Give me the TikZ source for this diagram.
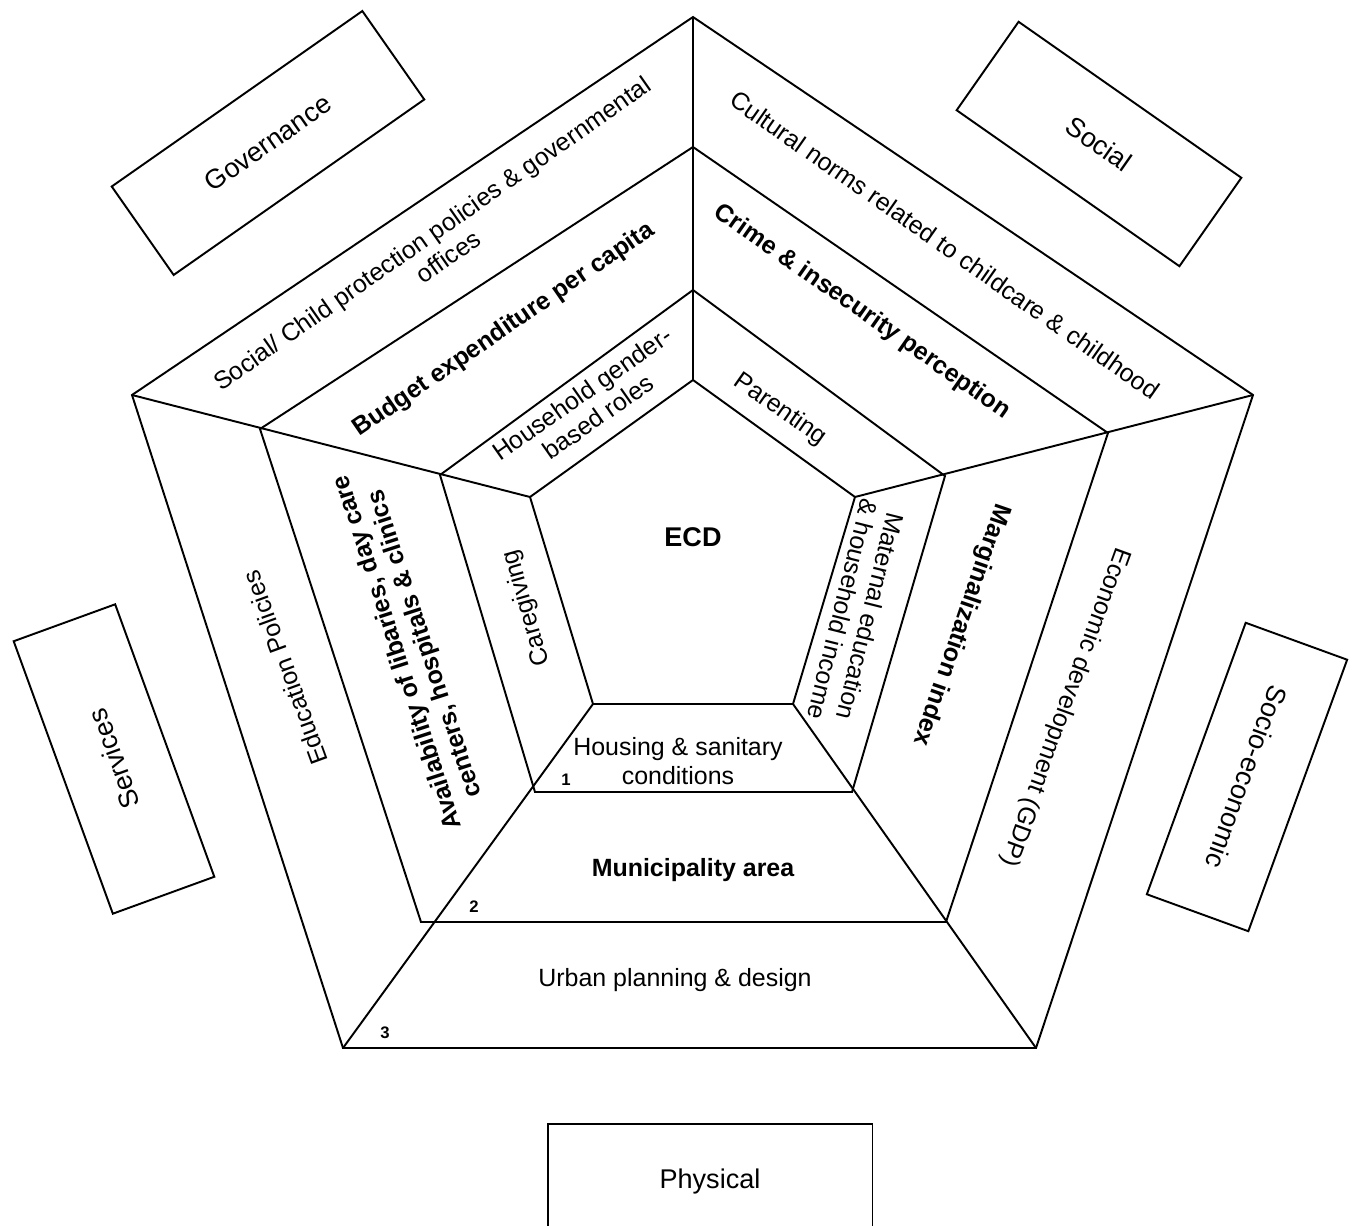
\documentclass[tikz,border=0pt]{standalone}
\usepackage{fontspec}
\setmainfont{Liberation Sans}
\usetikzlibrary{calc}

\begin{document}
\begin{tikzpicture}[
    x=0.02cm, y=-0.02cm,
    ring/.style={line width=1.1pt, line join=miter},
    txt/.style={font=\fontsize{14.2}{16.2}\selectfont, align=center, inner sep=0pt},
    boldtxt/.style={txt, font=\fontsize{14.2}{16.2}\selectfont\bfseries},
    dimbox/.style={draw, line width=1.1pt, minimum height=2.16cm, inner sep=0pt, font=\fontsize{15.4}{18}\selectfont},
    num/.style={font=\fontsize{9.5}{11}\selectfont\bfseries, inner sep=0pt}
]
    \useasboundingbox (0,0) rectangle (1357,1226);

    % vertices of the four pentagons (top, upper right, lower right, lower left, upper left)
    \coordinate (o1) at (693,17);   \coordinate (o2) at (1253,395);
    \coordinate (o3) at (1036,1048);\coordinate (o4) at (343,1048);
    \coordinate (o5) at (132,395);
    \coordinate (m1) at (693,147);  \coordinate (m2) at (1108,433);
    \coordinate (m3) at (946,922);  \coordinate (m4) at (421,922);
    \coordinate (m5) at (260,429);
    \coordinate (i1) at (693,290);  \coordinate (i2) at (945,476);
    \coordinate (i3) at (852,792);  \coordinate (i4) at (535,792);
    \coordinate (i5) at (440,475);
    \coordinate (e1) at (693,380);  \coordinate (e2) at (855,497);
    \coordinate (e3) at (793,704);  \coordinate (e4) at (593,704);
    \coordinate (e5) at (530,497);

    \draw[ring] (o1) -- (o2) -- (o3) -- (o4) -- (o5) -- cycle;
    \draw[ring] (m1) -- (m2) -- (m3) -- (m4) -- (m5) -- cycle;
    \draw[ring] (i1) -- (i2) -- (i3) -- (i4) -- (i5) -- cycle;
    \draw[ring] (e1) -- (e2) -- (e3) -- (e4) -- (e5) -- cycle;
    \foreach \k in {1,...,5}
        \draw[ring] (o\k) -- (e\k);

    % centre
    \node[boldtxt, font=\fontsize{15.4}{18}\selectfont\bfseries] (ecd) at (693,537) {ECD};

    % governance
    \node[txt, rotate=35] (govout) at (440,245) {Social/ Child protection policies \& governmental\\offices};
    \node[boldtxt, rotate=34.5] (govmid) at (504,330) {Budget expenditure per capita};
    \node[txt, rotate=35] (govin) at (590,405) {Household gender-\\based roles};

    % social
    \node[txt, rotate=-35] (socout) at (945,245) {Cultural norms related to childcare \& childhood};
    \node[boldtxt, rotate=-35] (socmid) at (862,312) {Crime \& insecurity perception};
    \node[txt, rotate=-35] (socin) at (780,410) {Parenting};

    % services
    \node[txt, rotate=110] (serout) at (285,668) {Education Policies};
    \node[boldtxt, rotate=108] (sermid) at (412,648) {Availability of libaries, day care\\centers, hospitals \& clinics};
    \node[txt, rotate=106] (serin) at (527,608) {Caregiving};

    % socio-economic
    \node[txt, rotate=-110] (ecoout) at (1065,707) {Economic development (GDP)};
    \node[boldtxt, rotate=-109] (ecomid) at (961,625) {Marginalization index};
    \node[txt, rotate=-104] (ecoin) at (857,613) {Maternal education\\\& household income};

    % physical
    \node[txt] (phyout) at (675,980) {Urban planning \& design};
    \node[boldtxt] (phymid) at (693,870) {Municipality area};
    \node[txt] (phyin) at (678,761) {Housing \& sanitary\\conditions};

    % ring numbers
    \node[num] (n1) at (566,780) {1};
    \node[num] (n2) at (474,907) {2};
    \node[num] (n3) at (385,1033) {3};

    % dimension boxes
    \node[dimbox, minimum width=6.12cm, rotate=35] (gov) at (268,143) {Governance};
    \node[dimbox, minimum width=5.44cm, rotate=-35] (soc) at (1099,144) {Social};
    \node[dimbox, minimum width=5.8cm, rotate=110] (ser) at (114,759) {Services};
    \node[dimbox, minimum width=5.78cm, rotate=-110] (eco) at (1247,777) {Socio-economic};
    \node[dimbox, minimum width=6.5cm, minimum height=2.32cm] (phy) at (710,1182) {Physical};
\end{tikzpicture}
\end{document}
